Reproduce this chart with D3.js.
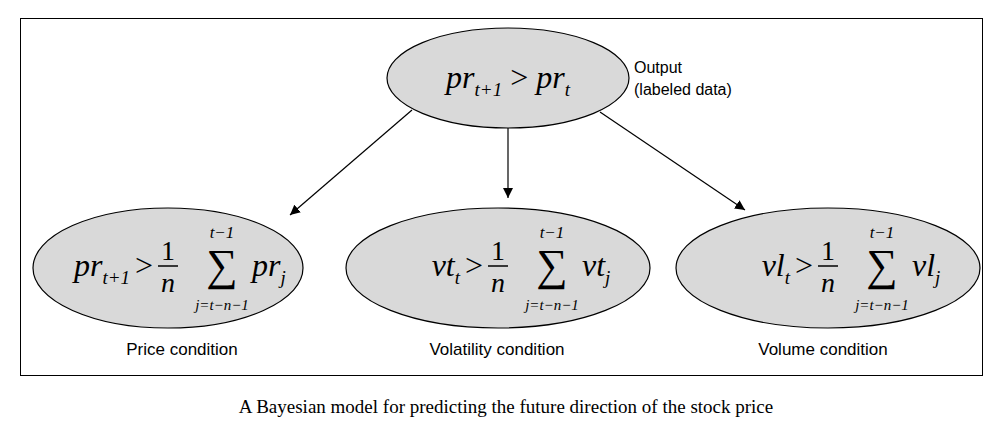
<!DOCTYPE html><html><head><meta charset="utf-8"><script src="https://cdn.jsdelivr.net/npm/d3@7"></script>
<style>body{margin:0;background:#fff}</style></head><body><svg id="c" width="1001" height="430"></svg>
<script>
const topNode = {name:"pr", sub:"t+1", rhs:"pr", rsub:"t"};
const conditions = ["Price condition","Volatility condition","Volume condition"];
const lhsVars = [["pr","t+1"],["vt","t"],["vl","t"]];
const rhsVars = [["pr","j"],["vt","j"],["vl","j"]];
const outputLabel = ["Output","(labeled data)"];
const caption = "A Bayesian model for predicting the future direction of the stock price";

const svg = d3.select("#c");
const x = d3.scalePoint().domain(conditions).range([168,828]);
const serif = "'Liberation Serif','Times New Roman',serif";
const sans = "'Liberation Sans',Arial,sans-serif";
svg.append("defs").append("marker").attr("id","ah").attr("viewBox","0 0 10 10").attr("refX",10).attr("refY",5)
 .attr("markerWidth",10).attr("markerHeight",10).attr("markerUnits","userSpaceOnUse").attr("orient","auto")
 .append("path").attr("d","M0,0L10,5L0,10z").attr("fill","#000");
svg.append("rect").attr("x",20.5).attr("y",18.5).attr("width",962).attr("height",357).attr("fill","none").attr("stroke","#000");
const rx=[135,152,152];
const starts=[[412,110],[508,128],[600,112]], ends=[[290,215],[508,198],[745,210]];
conditions.forEach((c,i)=>svg.append("line").attr("x1",starts[i][0]).attr("y1",starts[i][1]).attr("x2",ends[i][0]).attr("y2",ends[i][1]).attr("stroke","#000").attr("stroke-width",1.2).attr("marker-end","url(#ah)"));
svg.append("ellipse").attr("cx",508).attr("cy",78).attr("rx",121).attr("ry",50).attr("fill","#d9d9d9").attr("stroke","#000").attr("stroke-width",1.2);
const t=svg.append("text").attr("x",508).attr("y",88).attr("text-anchor","middle").attr("font-family",serif).attr("font-size",32);
t.append("tspan").attr("font-style","italic").text(topNode.name);
t.append("tspan").attr("font-style","italic").attr("font-size",19).attr("dy",8).text(topNode.sub);
t.append("tspan").attr("dy",-8).text(" > ");
t.append("tspan").attr("font-style","italic").text(topNode.rhs);
t.append("tspan").attr("font-style","italic").attr("font-size",19).attr("dy",8).text(topNode.rsub);
outputLabel.forEach((s,i)=>svg.append("text").attr("x",634).attr("y",73+i*22).attr("font-family",sans).attr("font-size",16).text(s));
const labX=[182,497,823];
conditions.forEach((c,i)=>{
 const cx=x(c), cy=268;
 svg.append("ellipse").attr("cx",cx).attr("cy",cy).attr("rx",rx[i]).attr("ry",60).attr("fill","#d9d9d9").attr("stroke","#000").attr("stroke-width",1.2);
 const l=svg.append("text").attr("x",cx-38).attr("y",cy+8).attr("text-anchor","end").attr("font-family",serif).attr("font-size",32);
 l.append("tspan").attr("font-style","italic").text(lhsVars[i][0]);
 l.append("tspan").attr("font-style","italic").attr("font-size",19).attr("dy",8).text(lhsVars[i][1]);
 svg.append("text").attr("x",cx-24).attr("y",cy+8).attr("text-anchor","middle").attr("font-family",serif).attr("font-size",32).text(">");
 svg.append("text").attr("x",cx).attr("y",cy-8).attr("text-anchor","middle").attr("font-family",serif).attr("font-size",28).text("1");
 svg.append("line").attr("x1",cx-10).attr("x2",cx+10).attr("y1",cy-2).attr("y2",cy-2).attr("stroke","#000").attr("stroke-width",1.5);
 svg.append("text").attr("x",cx).attr("y",cy+24).attr("text-anchor","middle").attr("font-family",serif).attr("font-style","italic").attr("font-size",28).text("n");
 svg.append("text").attr("x",cx+54).attr("y",cy+12).attr("text-anchor","middle").attr("font-family",serif).attr("font-size",44).text("∑");
 svg.append("text").attr("x",cx+54).attr("y",cy-30).attr("text-anchor","middle").attr("font-family",serif).attr("font-style","italic").attr("font-size",17).text("t−1");
 svg.append("text").attr("x",cx+54).attr("y",cy+42).attr("text-anchor","middle").attr("font-family",serif).attr("font-style","italic").attr("font-size",15).text("j=t−n−1");
 const r=svg.append("text").attr("x",cx+84).attr("y",cy+8).attr("font-family",serif).attr("font-size",32).attr("font-style","italic");
 r.append("tspan").text(rhsVars[i][0]);
 r.append("tspan").attr("font-size",19).attr("dy",8).text(rhsVars[i][1]);
 svg.append("text").attr("x",labX[i]).attr("y",355).attr("text-anchor","middle").attr("font-family",sans).attr("font-size",17).text(c);
});
svg.append("text").attr("x",506).attr("y",413).attr("text-anchor","middle").attr("font-family",serif).attr("font-size",19).text(caption);
</script></body></html>
